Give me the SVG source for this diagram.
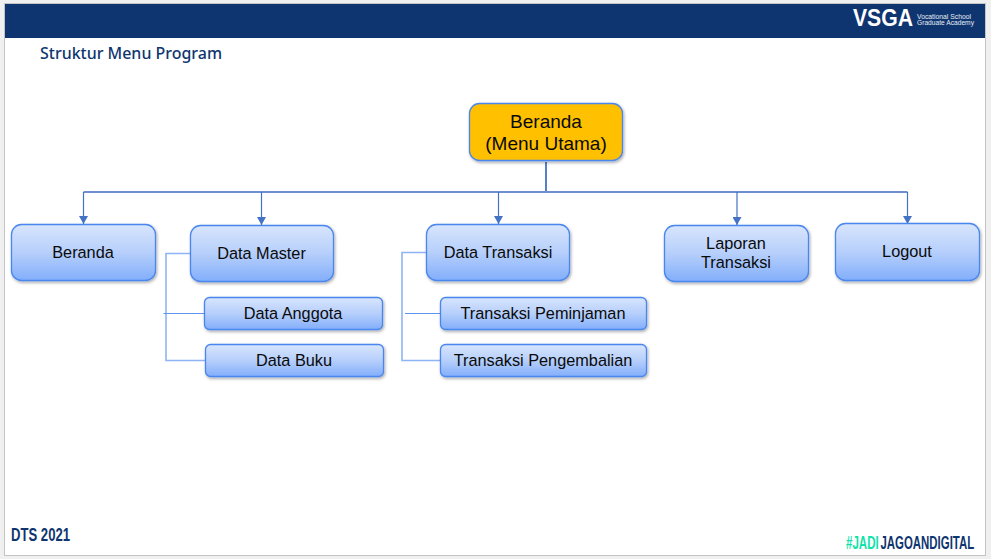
<svg xmlns="http://www.w3.org/2000/svg" width="991" height="559" viewBox="0 0 991 559">
<style>
text{font-family:"Liberation Sans",Arial,sans-serif;fill:#0a0a0a;text-anchor:middle}
.n{fill:url(#g);stroke:#4a86ee;stroke-width:1.3;filter:url(#s)}
.t{font-size:16.300px}
.l{fill:none;stroke:#4472c4;stroke-width:1.2}
.b{fill:none;stroke:#8fb4f5;stroke-width:1.6}
.h{font-family:"Liberation Sans",sans-serif;font-weight:700;fill:#0e3570;text-anchor:start}
</style>
<defs>
<linearGradient id="g" x1="0" y1="0" x2="0" y2="1"><stop offset="0" stop-color="#d8e5fd"/><stop offset="0.5" stop-color="#b6cffb"/><stop offset="1" stop-color="#82aefb"/></linearGradient>
<filter id="s" x="-10%" y="-15%" width="120%" height="135%"><feDropShadow dx="1" dy="1.5" stdDeviation="1.5" flood-color="#000" flood-opacity="0.35"/></filter>
<marker id="a" markerWidth="9" markerHeight="9" refX="8" refY="4.500" orient="auto" markerUnits="userSpaceOnUse"><path d="M0 0L8 4.500L0 9Z" fill="#4472c4"/></marker>
</defs>
<rect x="0" y="0" width="991" height="559" fill="#f0f0f0"/>
<rect x="4.500" y="3.500" width="981" height="552" fill="#fff" stroke="#c4c4c4"/>
<rect x="5" y="4" width="980" height="34" fill="#0e3570"/>
<g id="header">
<text x="853" y="26" class="h" style="fill:#fff;font-size:23px" textLength="60" lengthAdjust="spacingAndGlyphs">VSGA</text>
<text x="917" y="19" style="fill:#e8edf5;font-size:7px;text-anchor:start" textLength="54" lengthAdjust="spacingAndGlyphs">Vocational School</text>
<text x="917" y="25" style="fill:#e8edf5;font-size:7px;text-anchor:start" textLength="57" lengthAdjust="spacingAndGlyphs">Graduate Academy</text>
<text x="40" y="59" class="h" style="font-size:16px;font-weight:500;font-family:'Noto Sans',sans-serif" textLength="182" lengthAdjust="spacingAndGlyphs">Struktur Menu Program</text>
</g>
<g id="connectors">
<path class="l" style="stroke-width:1.8" d="M546 162V191.500"/>
<path class="l" style="stroke:#6f8fd0;stroke-width:2" d="M83.500 192H907.500"/>
<path class="l" marker-end="url(#a)" d="M83.500 192V224"/>
<path class="l" marker-end="url(#a)" d="M261.500 192V225"/>
<path class="l" marker-end="url(#a)" d="M498.500 192V224"/>
<path class="l" marker-end="url(#a)" d="M737 192V225"/>
<path class="l" marker-end="url(#a)" d="M907.500 192V224"/>
<path class="b" d="M190 253.500H166V360.500H205"/>
<path class="l" style="stroke:#5f94ee" d="M163.500 313.500H204"/>
<path class="b" d="M426 252.500H402V360.500H440"/>
<path class="l" style="stroke:#5f94ee" d="M405 313.500H440"/>
</g>
<g id="n-root"><rect x="469.500" y="103.500" width="153" height="57" rx="10" fill="#ffc000" stroke="#4a86ee" stroke-width="1.300" filter="url(#s)"/><text x="546" y="128" font-size="19">Beranda</text><text x="546" y="150" font-size="19">(Menu Utama)</text></g>
<g id="n-beranda"><rect class="n" x="11.500" y="224.500" width="144" height="56" rx="10"/><text class="t" x="83" y="258">Beranda</text></g>
<g id="n-master"><rect class="n" x="190.500" y="225.500" width="143" height="56" rx="10"/><text class="t" x="261.500" y="259">Data Master</text></g>
<g id="n-anggota"><rect class="n" x="204.500" y="297.500" width="178" height="32" rx="5"/><text class="t" x="293" y="319">Data Anggota</text></g>
<g id="n-buku"><rect class="n" x="205.500" y="344.500" width="178" height="32" rx="5"/><text class="t" x="294" y="366">Data Buku</text></g>
<g id="n-transaksi"><rect class="n" x="426.500" y="224.500" width="143" height="56" rx="10"/><text class="t" x="498" y="258">Data Transaksi</text></g>
<g id="n-pinjam"><rect class="n" x="440.500" y="297.500" width="206" height="32" rx="5"/><text class="t" x="543" y="319">Transaksi Peminjaman</text></g>
<g id="n-kembali"><rect class="n" x="440.500" y="344.500" width="206" height="32" rx="5"/><text class="t" x="543" y="366">Transaksi Pengembalian</text></g>
<g id="n-laporan"><rect class="n" x="664.500" y="225.500" width="144" height="56" rx="10"/><text class="t" x="736" y="249">Laporan</text><text class="t" x="736" y="268">Transaksi</text></g>
<g id="n-logout"><rect class="n" x="835.500" y="223.500" width="144" height="57" rx="10"/><text class="t" x="907" y="257">Logout</text></g>
<g id="footer">
<text x="11" y="541" class="h" style="font-size:18px" textLength="59" lengthAdjust="spacingAndGlyphs">DTS 2021</text>
<text transform="translate(846 549) scale(.64 1)" class="h" style="font-size:18px;fill:#0fe3a8">#JADI</text>
<text transform="translate(880.500 549) scale(.635 1)" class="h" style="font-size:18px">JAGOANDIGITAL</text>
</g>
</svg>
